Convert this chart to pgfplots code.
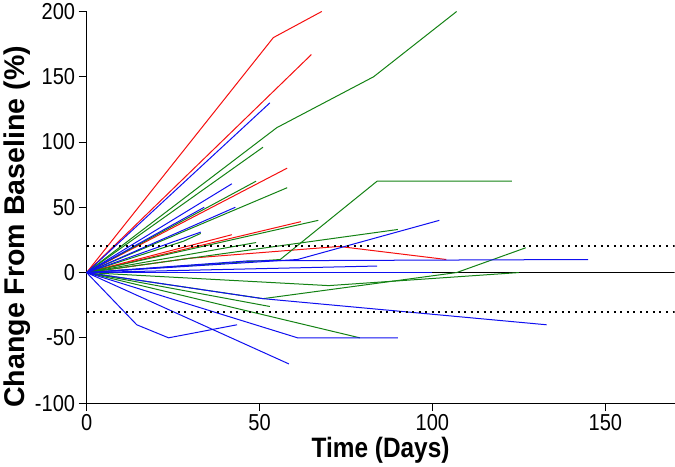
\documentclass[border=0pt]{standalone}
\usepackage{fontspec}
\setmainfont{Liberation Sans}
\newfontfamily\narrowfont[FakeStretch=0.87]{Liberation Sans}
\usepackage{pgfplots}
\pgfplotsset{compat=1.18}
\definecolor{sred}{RGB}{245,15,15}
\definecolor{sblue}{RGB}{15,15,240}
\definecolor{sgreen}{RGB}{20,130,20}

\begin{document}
\begin{tikzpicture}
\begin{axis}[
  scale only axis, width=587pt, height=391pt,
  xmin=0, xmax=170, ymin=-100, ymax=200,
  axis x line*=bottom, axis y line*=left,
  xtick={0,50,100,150}, ytick={-100,-50,0,50,100,150,200},
  tick align=outside, major tick length=8pt,
  tick style={black, line width=1pt},
  axis line style={black, line width=1pt},
  /pgf/number format/assume math mode=true,
  ticklabel style={font=\narrowfont\fontsize{23}{26}\selectfont},
  xlabel={Time (Days)}, ylabel={Change From Baseline (\%)},
  xlabel style={font=\narrowfont\bfseries\fontsize{28}{30}\selectfont, yshift=1pt},
  ylabel style={font=\bfseries\fontsize{28.5}{30}\selectfont, at={(ticklabel cs:0.45)}, yshift=-2pt},
  every axis plot/.append style={line width=1pt},
  r/.style={sred}, b/.style={sblue}, g/.style={sgreen},
]
% zero reference
\addplot[black, line width=1pt] coordinates {(0,0) (170,0)};

% red
\addplot[r] coordinates {(0,0) (62,0)};
\addplot[r] coordinates {(0,0) (54,180) (68,200)};
\addplot[r] coordinates {(0,0) (65,167)};
\addplot[r] coordinates {(0,0) (58,80)};
\addplot[r] coordinates {(0,0) (62,39)};
\addplot[r] coordinates {(0,0) (42,29)};
\addplot[r] coordinates {(0,0) (30,11) (73,20) (104,10)};

% green
\addplot[g] coordinates {(0,0) (55,111) (83,150) (107,200)};
\addplot[g] coordinates {(0,0) (51,96)};
\addplot[g] coordinates {(0,0) (49,70)};
\addplot[g] coordinates {(0,0) (58,65)};
\addplot[g] coordinates {(0,0) (67,40)};
\addplot[g] coordinates {(0,0) (90,33)};
\addplot[g] coordinates {(0,0) (49,23)};
\addplot[g] coordinates {(0,0) (28,24) (33,30)};
\addplot[g] coordinates {(0,0) (56,10) (84,70) (123,70)};
\addplot[g] coordinates {(0,0) (51,-20) (107,0) (127,19)};
\addplot[g] coordinates {(0,0) (70,-10) (125,0)};
\addplot[g] coordinates {(0,0) (53,-26)};
\addplot[g] coordinates {(0,0) (79,-50)};

% blue
\addplot[b] coordinates {(0,0) (100,0)};
\addplot[b] coordinates {(0,0) (53,130)};
\addplot[b] coordinates {(0,0) (42,68)};
\addplot[b] coordinates {(0,0) (43,50)};
\addplot[b] coordinates {(0,0) (34,50)};
\addplot[b] coordinates {(0,0) (33,31)};
\addplot[b] coordinates {(0,0) (61,10) (102,40)};
\addplot[b] coordinates {(0,0) (47,9) (145,10)};
\addplot[b] coordinates {(0,0) (84,5)};
\addplot[b] coordinates {(0,0) (51,-20) (133,-40)};
\addplot[b] coordinates {(0,0) (14.5,-40) (23.7,-50) (43.5,-40)};
\addplot[b] coordinates {(0,0) (58.5,-70)};
\addplot[b] coordinates {(0,0) (61,-50) (90,-50)};

% thresholds
\addplot[black, line width=2pt, dash pattern=on 2pt off 4.5pt] coordinates {(0,20) (170,20)};
\addplot[black, line width=2pt, dash pattern=on 2pt off 4.5pt] coordinates {(0,-30) (170,-30)};
\end{axis}
\end{tikzpicture}
\end{document}
